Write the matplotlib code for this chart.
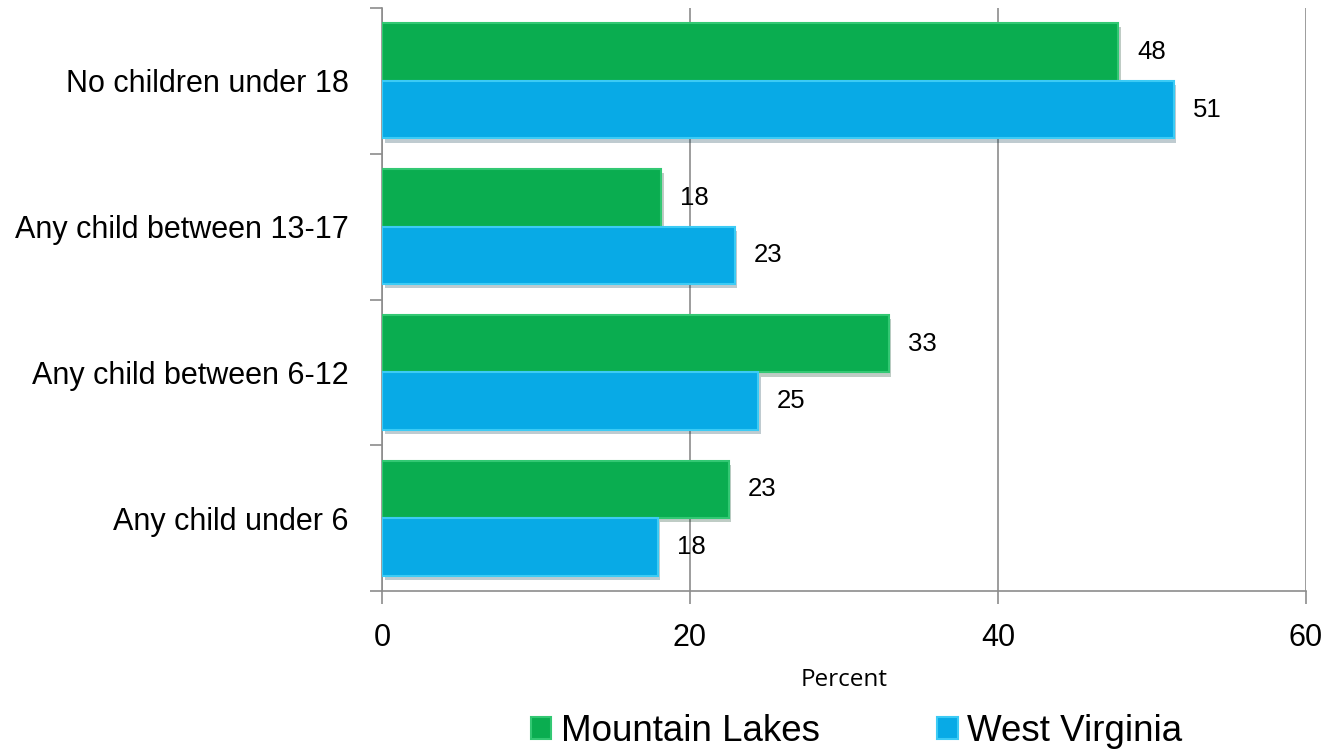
import matplotlib
matplotlib.use("Agg")
import matplotlib.pyplot as plt
import matplotlib.patheffects as pe
from matplotlib.patches import Patch
import numpy as np

# ---------------------------------------------------------------------------
# Data (percent)
# ---------------------------------------------------------------------------
categories = [
    "No children under 18",
    "Any child between 13-17",
    "Any child between 6-12",
    "Any child under 6",
]
mountain_lakes = [47.8, 18.1, 32.9, 22.5]
west_virginia = [51.4, 22.9, 24.4, 17.9]
mountain_labels = ["48", "18", "33", "23"]
west_labels = ["51", "23", "25", "18"]
series_names = ["Mountain Lakes", "West Virginia"]
x_ticks = [0, 20, 40, 60]

GREEN = "#0AAD50"
GREEN_EDGE = "#33C873"
BLUE = "#08AAE6"
BLUE_EDGE = "#3CCBF5"
GRID = "#8C8C8C"

plt.rcParams["font.family"] = ["Liberation Sans", "DejaVu Sans"]

fig = plt.figure(figsize=(13.28, 7.52), dpi=100)
ax = fig.add_axes([382 / 1328, 1 - 591 / 752, 924 / 1328, 583 / 752])

y = np.arange(len(categories))
h = 0.395
shadow = [pe.SimplePatchShadow(offset=(2, -3), alpha=0.25), pe.Normal()]

bars_g = ax.barh(y - h / 2, mountain_lakes, height=h, color=GREEN,
                 edgecolor=GREEN_EDGE, linewidth=1.5, zorder=3)
bars_b = ax.barh(y + h / 2, west_virginia, height=h, color=BLUE,
                 edgecolor=BLUE_EDGE, linewidth=1.5, zorder=3)
for b in list(bars_g) + list(bars_b):
    b.set_path_effects(shadow)

ax.bar_label(bars_g, labels=mountain_labels, padding=14, fontsize=18.5)
ax.bar_label(bars_b, labels=west_labels, padding=14, fontsize=18.5)

ax.set_xlim(0, 60)
ax.set_ylim(len(categories) - 0.5, -0.5)
ax.set_xticks(x_ticks)
ax.set_xticklabels([str(t) for t in x_ticks], fontsize=22)
ax.set_yticks(y)
ax.set_yticklabels(categories, fontsize=22)
ax.set_yticks(np.arange(len(categories) + 1) - 0.5, minor=True)
ax.tick_params(axis="y", which="major", length=0, pad=24)
ax.tick_params(axis="y", which="minor", length=9, color=GRID, width=1.2)
ax.tick_params(axis="x", length=9, color=GRID, width=1.2, pad=14)

ax.grid(axis="x", color=GRID, linewidth=1.2, zorder=0)
ax.set_axisbelow(True)
for side in ["top", "right"]:
    ax.spines[side].set_visible(False)
for side in ["left", "bottom"]:
    ax.spines[side].set_color(GRID)
    ax.spines[side].set_linewidth(1.2)

ax.set_xlabel("Percent", fontsize=17.5, family=["Open Sans", "DejaVu Sans"],
              labelpad=11)

handles = [
    Patch(facecolor=GREEN, edgecolor=GREEN_EDGE, linewidth=1.5),
    Patch(facecolor=BLUE, edgecolor=BLUE_EDGE, linewidth=1.5),
]
fig.legend(handles, series_names, loc="center", bbox_to_anchor=(0.645, 0.027),
           ncol=2, frameon=False, fontsize=26.5, handlelength=0.55,
           handleheight=0.55, handletextpad=0.25, columnspacing=3.2,
           borderaxespad=0)

fig.savefig("out.png", dpi=100)
